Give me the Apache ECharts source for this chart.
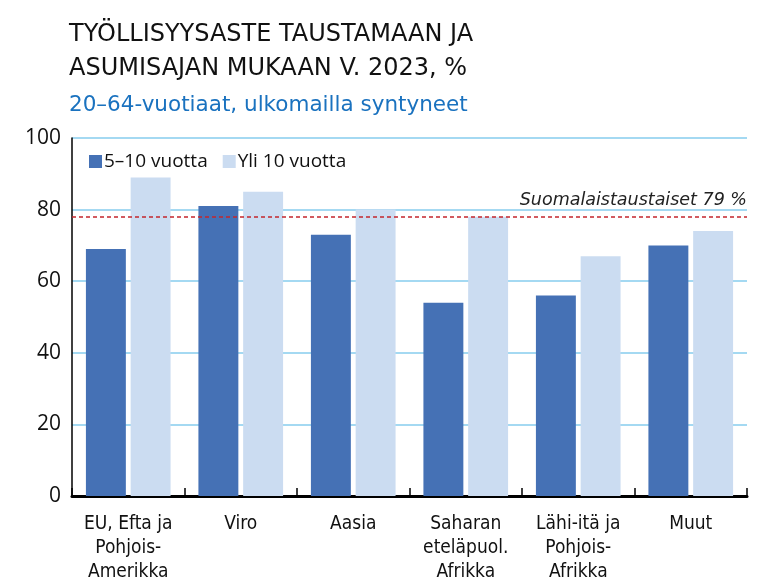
<!DOCTYPE html>
<html>
<head>
<meta charset="utf-8">
<script src="https://cdn.jsdelivr.net/npm/echarts@6/dist/echarts.min.js"></script>
<style>
  html, body { margin: 0; padding: 0; background: #fff; }
  #chart { width: 776px; height: 579px; }
</style>
</head>
<body>
<div id="chart"></div>
<script>
// luokat ja sarjat
const categories = ['EU, Efta ja\nPohjois-\nAmerikka', 'Viro', 'Aasia', 'Saharan\neteläpuol.\nAfrikka', 'Lähi-itä ja\nPohjois-\nAfrikka', 'Muut'];
const shortStay = [69, 81, 73, 54, 56, 70];   // 5–10 vuotta
const longStay = [89, 85, 80, 78, 67, 74];    // Yli 10 vuotta
const finnishBg = 78;                          // viiva kuvassa
const finnishLabel = 'Suomalaistaustaiset 79 %';
const yTicks = [0, 20, 40, 60, 80, 100];

const narrow = "'Liberation Sans Narrow', 'DejaVu Sans Condensed', sans-serif";
const sans = "'Open Sans', 'Noto Sans', sans-serif";
const wide = "'DejaVu Sans', sans-serif";

const chart = echarts.init(document.getElementById('chart'));

const option = {
    backgroundColor: '#fff',
    animation: false,
    title: {
        text: 'TYÖLLISYYSASTE TAUSTAMAAN JA\nASUMISAJAN MUKAAN V. 2023, %',
        subtext: '20–64-vuotiaat, ulkomailla syntyneet',
        left: 64,
        top: 13,
        itemGap: 8,
        textStyle: {
            fontFamily: wide,
            fontSize: 24,
            fontWeight: 'normal',
            color: '#111',
            lineHeight: 34
        },
        subtextStyle: {
            fontFamily: wide,
            fontSize: 21.5,
            color: '#1a72bf'
        }
    },
    legend: {
        left: 84,
        top: 147,
        itemWidth: 13,
        itemHeight: 13,
        itemGap: 15,
        icon: 'rect',
        textStyle: { fontFamily: sans, fontSize: 19, color: '#111', padding: [0, 0, 0, -3] },
        data: ['5–10 vuotta', 'Yli 10 vuotta']
    },
    grid: { left: 72, right: 29, top: 138, bottom: 83, outerBoundsMode: 'none' },
    xAxis: {
        type: 'category',
        data: categories,
        axisLine: { lineStyle: { color: '#000', width: 3 } },
        axisTick: { show: true, inside: true, length: 8, lineStyle: { color: '#000', width: 1.5 } },
        axisLabel: {
            fontFamily: narrow,
            fontSize: 19,
            color: '#111',
            lineHeight: 24,
            margin: 16,
            interval: 0
        }
    },
    yAxis: {
        type: 'value',
        min: yTicks[0],
        max: yTicks[yTicks.length - 1],
        interval: 20,
        axisLine: { show: true, lineStyle: { color: '#000', width: 1.5 } },
        axisTick: { show: false },
        axisLabel: { fontFamily: sans, fontSize: 21, color: '#111', margin: 11 },
        splitLine: { lineStyle: { color: '#86cdee', width: 1.5 } }
    },
    series: [
        {
            name: '5–10 vuotta',
            type: 'bar',
            data: shortStay,
            barWidth: '35.5%',
            barGap: '12%',
            itemStyle: { color: '#4571b5' },
            markLine: {
                silent: true,
                symbol: 'none',
                data: [{ yAxis: finnishBg }],
                lineStyle: { color: '#c3262c', type: [4, 3], width: 1.5 },
                label: {
                    position: 'insideEndTop',
                    formatter: finnishLabel,
                    fontFamily: wide,
                    fontStyle: 'italic',
                    fontSize: 17.5,
                    color: '#222',
                    distance: [0, 7]
                }
            }
        },
        {
            name: 'Yli 10 vuotta',
            type: 'bar',
            data: longStay,
            barWidth: '35.5%',
            itemStyle: { color: '#cbdcf1' }
        }
    ]
};

chart.setOption(option);
</script>
</body>
</html>
